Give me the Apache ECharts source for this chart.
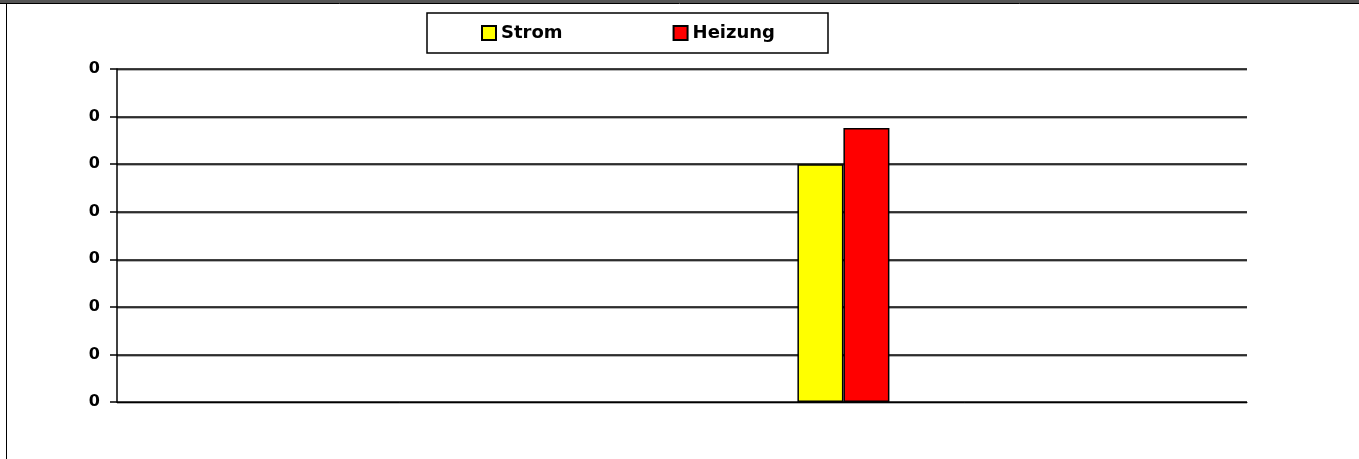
<!DOCTYPE html>
<html><head><meta charset="utf-8">
<script src="https://cdn.jsdelivr.net/npm/echarts@6/dist/echarts.min.js"></script>
<style>html,body{margin:0;padding:0;background:#fff}#c{width:1359px;height:459px}</style>
</head><body><div id="c"></div>
<script>
const categories = ["1", "2", "3", "4", "5", "6", "7"];
const strom = [null, null, null, null, 0.0005, null, null];
const heizung = [null, null, null, null, 0.000576, null, null];
const yTicks = { min: 0, max: 0.0007, interval: 0.0001 };

const chart = echarts.init(document.getElementById('c'));
const font = '"DejaVu Sans", Arial, sans-serif';
chart.setOption({
  animation: false,
  backgroundColor: '#fff',
  graphic: [
    { type: 'rect', shape: { x: 0, y: 0, width: 1359, height: 3 }, style: { fill: '#555' } },
    { type: 'line', shape: { x1: 0, y1: 3.5, x2: 1359, y2: 3.5 }, style: { stroke: '#000', lineWidth: 1 } },
    { type: 'line', shape: { x1: 6.5, y1: 3, x2: 6.5, y2: 459 }, style: { stroke: '#000', lineWidth: 1 } }
  ],
  grid: { left: 117, right: 112, top: 69, bottom: 57 },
  legend: {
    left: 427, top: 13,
    padding: [11, 53, 11, 54],
    borderColor: '#000', borderWidth: 1.5,
    icon: 'rect',
    itemWidth: 14, itemHeight: 14, itemGap: 110,
    textStyle: { fontFamily: font, fontWeight: 'bold', fontSize: 18, color: '#000' },
    data: ['Strom', 'Heizung']
  },
  xAxis: {
    type: 'category', data: categories,
    axisLine: { show: true, lineStyle: { color: '#000', width: 1 } },
    axisTick: { show: false }, axisLabel: { show: false }
  },
  yAxis: {
    type: 'value', min: yTicks.min, max: yTicks.max, interval: yTicks.interval,
    axisLine: { show: true, lineStyle: { color: '#000', width: 1.5 } },
    axisTick: { show: true, length: 7, lineStyle: { color: '#000', width: 1.5 } },
    axisLabel: { margin: 17, fontFamily: font, fontWeight: 'bold', fontSize: 16, color: '#000',
      formatter: v => v.toFixed(0) },
    splitLine: { show: true, lineStyle: { color: '#000', width: 1.5, shadowColor: '#999', shadowOffsetY: 1 } }
  },
  series: [
    { name: 'Strom', type: 'bar', data: strom, barWidth: 46, barGap: '0%',
      itemStyle: { color: '#ffff00', borderColor: '#000', borderWidth: 1.5 } },
    { name: 'Heizung', type: 'bar', data: heizung, barWidth: 46,
      itemStyle: { color: '#ff0000', borderColor: '#000', borderWidth: 1.5 } }
  ]
});
</script></body></html>
